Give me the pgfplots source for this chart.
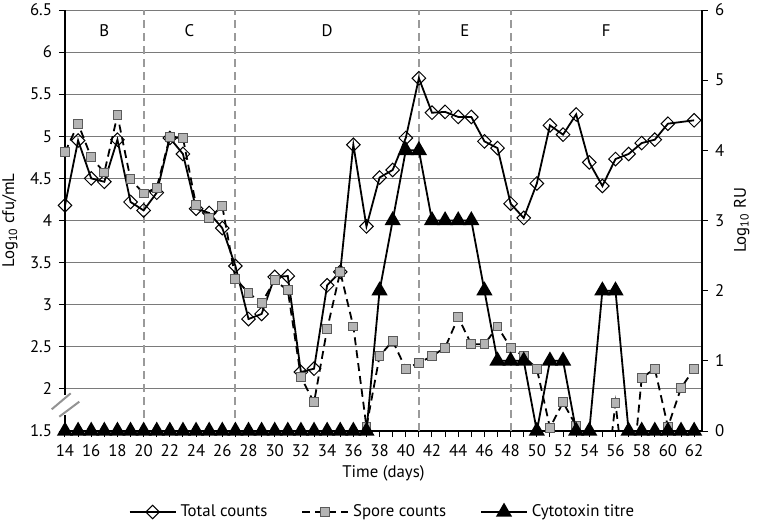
\documentclass[border=0pt]{standalone}
\usepackage{pgfplots}
\pgfplotsset{compat=1.18}
\usepackage{fontspec}
\setmainfont{PT Sans}
\definecolor{gridc}{HTML}{7A7A7A}
\definecolor{vdash}{HTML}{9A9A9A}
\definecolor{sqfill}{HTML}{B4B4B4}
\definecolor{sqdraw}{HTML}{5A5A5A}
\newcommand{\fs}{\fontsize{8.4}{10}\selectfont}
\pgfplotsset{
  totst/.style={black, line width=0.9pt, mark=square, mark size=2.4pt,
    mark options={solid, rotate=45, fill=white, draw=black, line width=0.5pt}},
  sporest/.style={black, line width=0.9pt, dash pattern=on 4pt off 2.5pt, mark=square*, mark size=2.2pt,
    mark options={solid, fill=sqfill, draw=sqdraw, line width=0.5pt}},
  toxst/.style={black, line width=0.9pt, mark=triangle*, mark size=3.8pt,
    mark options={solid, fill=black, draw=black}},
  common/.style={scale only axis, width=318.5pt, height=210.5pt, xmin=14, xmax=62.6,
    /pgf/number format/assume math mode=true,
    tick label style={font=\fs}, label style={font=\fs},
    tick align=outside, major tick length=3pt, minor tick length=3pt,
    axis line style={-, black, line width=0.6pt},
    tick style={black, line width=0.5pt},
    legend image code/.code={\draw[mark repeat=2,mark phase=2] plot coordinates {(0pt,0pt)(11.5pt,0pt)(23pt,0pt)};},
  },
}
\begin{document}
\begin{tikzpicture}
\begin{axis}[common, name=ax1,
  axis x line*=bottom, axis y line*=left,
  ymin=1.5, ymax=6.5, ytick={1.5,2,2.5,3,3.5,4,4.5,5,5.5,6,6.5},
  xtick={14,16,...,62}, minor xtick={15,17,...,61},
  ymajorgrids, grid style={gridc, line width=0.5pt},
  xlabel={Time (days)},
  xlabel style={at={(axis description cs:0.5,-0.1)}, anchor=center},
  ylabel={Log\textsubscript{10} cfu/mL},
  ylabel style={at={(axis description cs:-0.0863,0.5)}, anchor=center},
]
% phase boundaries
\addplot[vdash, line width=1pt, dash pattern=on 4pt off 2.5pt, forget plot] coordinates {(20,1.5) (20,6.5)};
\addplot[vdash, line width=1pt, dash pattern=on 4pt off 2.5pt, forget plot] coordinates {(27,1.5) (27,6.5)};
\addplot[vdash, line width=1pt, dash pattern=on 4pt off 2.5pt, forget plot] coordinates {(41,1.5) (41,6.5)};
\addplot[vdash, line width=1pt, dash pattern=on 4pt off 2.5pt, forget plot] coordinates {(48,1.5) (48,6.5)};
\node[font=\fs] at (axis cs:17,6.25) {B};
\node[font=\fs] at (axis cs:23.5,6.25) {C};
\node[font=\fs] at (axis cs:34,6.25) {D};
\node[font=\fs] at (axis cs:44.5,6.25) {E};
\node[font=\fs] at (axis cs:55.3,6.25) {F};
% total counts
\addplot[totst] coordinates {
(14,4.18) (15,4.95) (16,4.50) (17,4.46) (18,4.96) (19,4.22) (20,4.12) (21,4.33)
(22,4.98) (23,4.79) (24,4.14) (25,4.09) (26,3.91) (27,3.46) (28,2.83) (29,2.89)
(30,3.33) (31,3.34) (32,2.20) (33,2.24) (34,3.23) (35,3.39) (36,4.90) (37,3.93)
(38,4.51) (39,4.60) (40,4.98) (41,5.69) (42,5.28) (43,5.29) (44,5.23) (45,5.23)
(46,4.94) (47,4.86) (48,4.20) (49,4.03) (50,4.44) (51,5.13) (52,5.02) (53,5.26)
(54,4.69) (55,4.41) (56,4.73) (57,4.79) (58,4.92) (59,4.96) (60,5.15) (62,5.19)
};
% spore counts: line (values below the axis run off it), then the visible marks
\addplot[sporest, mark=none] coordinates {
(14,4.81) (15,5.15) (16,4.75) (17,4.57) (18,5.25) (19,4.49) (20,4.32) (21,4.39)
(22,4.99) (23,4.98) (24,4.18) (25,4.03) (26,4.17) (27,3.31) (28,3.14) (29,3.02)
(30,3.29) (31,3.17) (32,2.14) (33,1.84) (34,2.71) (35,3.39) (36,2.74) (37,1.55)
(38,2.39) (39,2.57) (40,2.24) (41,2.31) (42,2.39) (43,2.49) (44,2.85) (45,2.53)
(46,2.53) (47,2.74) (48,2.49) (49,2.39) (50,2.24) (51,1.54) (52,1.84) (53,1.56)
(54,0.5) (55,0.5) (56,1.83) (57,0.5) (58,2.13) (59,2.24) (60,1.55) (61,2.01) (62,2.24)
};
\addplot[sporest, only marks] coordinates {
(14,4.81) (15,5.15) (16,4.75) (17,4.57) (18,5.25) (19,4.49) (20,4.32) (21,4.39)
(22,4.99) (23,4.98) (24,4.18) (25,4.03) (26,4.17) (27,3.31) (28,3.14) (29,3.02)
(30,3.29) (31,3.17) (32,2.14) (33,1.84) (34,2.71) (35,3.39) (36,2.74) (37,1.55)
(38,2.39) (39,2.57) (40,2.24) (41,2.31) (42,2.39) (43,2.49) (44,2.85) (45,2.53)
(46,2.53) (47,2.74) (48,2.49) (49,2.39) (50,2.24) (51,1.54) (52,1.84) (53,1.56)
(56,1.83) (58,2.13) (59,2.24) (60,1.55) (61,2.01) (62,2.24)
};
\end{axis}
\begin{axis}[common, name=ax2,
  axis y line*=right, axis x line=none,
  ymin=0, ymax=6, ytick={0,1,2,3,4,5,6},
  ylabel={Log\textsubscript{10} RU},
  ylabel style={at={(axis description cs:1.0623,0.5)}, anchor=center},
  legend style={at={(axis description cs:0.5,-0.1924)}, anchor=center, legend columns=3,
    draw=none, fill=none, font=\fs, /tikz/every even column/.append style={column sep=15pt}},
  legend cell align=left,
]
\addlegendimage{totst}
\addlegendentry{Total counts}
\addlegendimage{sporest}
\addlegendentry{Spore counts}
\addplot[toxst] coordinates {
(14,0) (15,0) (16,0) (17,0) (18,0) (19,0) (20,0) (21,0) (22,0) (23,0) (24,0) (25,0)
(26,0) (27,0) (28,0) (29,0) (30,0) (31,0) (32,0) (33,0) (34,0) (35,0) (36,0) (37,0)
(38,2) (39,3) (40,4) (41,4) (42,3) (43,3) (44,3) (45,3) (46,2) (47,1) (48,1) (49,1)
(50,0) (51,1) (52,1) (53,0) (54,0) (55,2) (56,2) (57,0) (58,0) (59,0) (60,0) (61,0) (62,0)
};
\addlegendentry{Cytotoxin titre}
\end{axis}
% axis break on the left axis
\fill[white] ([shift={(-1.5pt,8pt)}]ax1.south west) rectangle ([shift={(1.5pt,18pt)}]ax1.south west);
\draw[gray!85, line width=1pt] ([shift={(-6.65pt,10.85pt)}]ax1.south west) -- ([shift={(2.85pt,18.85pt)}]ax1.south west);
\draw[gray!85, line width=1pt] ([shift={(-2.85pt,7.15pt)}]ax1.south west) -- ([shift={(7.15pt,14.65pt)}]ax1.south west);
\pgfresetboundingbox
\path ([shift={(-32.5pt,-48pt)}]ax1.south west) rectangle ([shift={(346pt,215.5pt)}]ax1.south west);
\end{tikzpicture}
\end{document}
